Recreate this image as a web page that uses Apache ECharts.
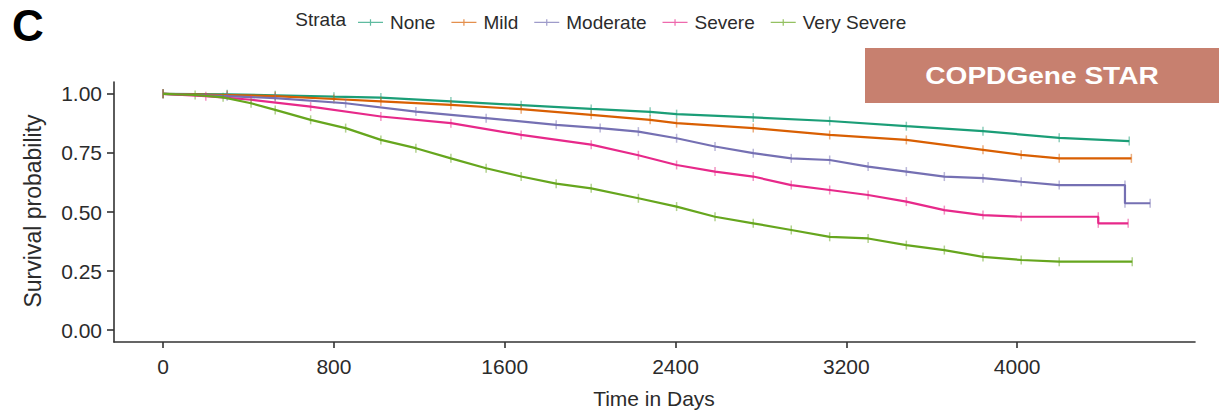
<!DOCTYPE html>
<html>
<head>
<meta charset="utf-8">
<script src="https://cdn.jsdelivr.net/npm/echarts@6/dist/echarts.min.js"></script>
<style>
html,body{margin:0;padding:0;background:#fff;}
#chart{width:1219px;height:419px;}
</style>
</head>
<body>
<div id="chart"></div>
<script>
// ---- data ----
const strata = ['None', 'Mild', 'Moderate', 'Severe', 'Very Severe'];
const colors = ['#1b9e77', '#d95f02', '#7570b3', '#e7298a', '#66a61e'];

const daysNone = [0, 300, 525, 800, 1020, 1348, 1677, 2005, 2281, 2405, 2764, 3122, 3481, 3840, 4197, 4525];
const survNone = [1, 0.998, 0.994, 0.988, 0.984, 0.968, 0.952, 0.936, 0.924, 0.914, 0.9, 0.885, 0.863, 0.842, 0.814, 0.8];

const daysMild = [0, 300, 525, 800, 1020, 1348, 1677, 2005, 2281, 2405, 2764, 3122, 3481, 3840, 4019, 4197, 4535];
const survMild = [1, 0.995, 0.99, 0.978, 0.968, 0.953, 0.935, 0.911, 0.89, 0.876, 0.855, 0.826, 0.805, 0.763, 0.742, 0.727, 0.727];

const daysModerate = [0, 300, 525, 855, 1184, 1513, 1841, 2047, 2226, 2405, 2585, 2764, 2942, 3122, 3302, 3481, 3659, 3840, 4019, 4197, 4505, 4505, 4623];
const survModerate = [1, 0.99, 0.982, 0.96, 0.925, 0.897, 0.869, 0.855, 0.84, 0.812, 0.777, 0.749, 0.727, 0.72, 0.692, 0.671, 0.65, 0.643, 0.628, 0.614, 0.614, 0.537, 0.537];

const daysSevere = [0, 200, 412, 691, 1020, 1348, 1677, 2005, 2226, 2405, 2585, 2764, 2942, 3122, 3302, 3481, 3659, 3840, 4019, 4380, 4380, 4520];
const survSevere = [1, 0.99, 0.975, 0.946, 0.904, 0.876, 0.826, 0.785, 0.74, 0.699, 0.671, 0.65, 0.614, 0.593, 0.572, 0.544, 0.508, 0.487, 0.48, 0.48, 0.452, 0.452];

const daysVerySevere = [0, 150, 281, 412, 525, 691, 855, 1020, 1184, 1348, 1513, 1677, 1841, 2005, 2226, 2405, 2585, 2764, 2942, 3122, 3302, 3481, 3659, 3840, 4019, 4197, 4539];
const survVerySevere = [1, 0.995, 0.985, 0.96, 0.932, 0.89, 0.855, 0.805, 0.77, 0.727, 0.685, 0.65, 0.62, 0.60, 0.558, 0.523, 0.48, 0.452, 0.424, 0.395, 0.388, 0.36, 0.339, 0.31, 0.297, 0.29, 0.29];

const xTicks = [0, 800, 1600, 2400, 3200, 4000];
const yTicks = [0, 0.25, 0.5, 0.75, 1];

// ---- chart ----
const allDays = [daysNone, daysMild, daysModerate, daysSevere, daysVerySevere];
const allSurv = [survNone, survMild, survModerate, survSevere, survVerySevere];

const font = "'Liberation Sans', Arial, Helvetica, sans-serif";
const axisColor = '#333';
const textColor = '#2b2b2b';

const series = strata.map((name, i) => ({
  name: name,
  type: 'line',
  data: allDays[i].map((d, j) => [d, allSurv[i][j]]),
  showSymbol: true,
  showAllSymbol: true,
  symbol: 'rect',
  symbolSize: [1.5, 9],
  itemStyle: { color: colors[i], opacity: 0.5 },
  lineStyle: { color: colors[i], width: 2.2 },
  emphasis: { disabled: true },
  silent: true,
  z: 2 + i
}));

const legendIcon = 'path://M0,3.5 H25 V4.7 H0 Z M11.9,1 H13.1 V7.5 H11.9 Z';

const chart = echarts.init(document.getElementById('chart'), null, { renderer: 'svg' });
chart.setOption({
  animation: false,
  backgroundColor: '#fff',
  textStyle: { fontFamily: font },
  grid: { left: 114, right: 24, top: 82, bottom: 77, containLabel: false },
  legend: {
    data: strata,
    left: 353,
    top: 8,
    icon: legendIcon,
    itemWidth: 25,
    itemHeight: 8,
    itemGap: 16,
    itemStyle: { opacity: 0.7 },
    textStyle: { fontSize: 19, color: textColor, fontFamily: font, padding: [2, 0, 0, 2] },
    selectedMode: false
  },
  xAxis: {
    type: 'value',
    min: -230,
    max: 4833,
    axisLine: { show: true, onZero: false, lineStyle: { color: axisColor, width: 1.6 } },
    axisTick: { show: true, length: 6, customValues: xTicks, lineStyle: { color: axisColor, width: 1.6 } },
    axisLabel: { customValues: xTicks, fontSize: 21, color: textColor, margin: 14, fontFamily: font,
      formatter: v => String(v) },
    splitLine: { show: false }
  },
  yAxis: {
    type: 'value',
    min: -0.05,
    max: 1.05,
    axisLine: { show: true, onZero: false, lineStyle: { color: axisColor, width: 1.6 } },
    axisTick: { show: true, length: 7, customValues: yTicks, lineStyle: { color: axisColor, width: 1.6 } },
    axisLabel: { customValues: yTicks, fontSize: 21, color: textColor, margin: 12, fontFamily: font,
      formatter: v => v.toFixed(2) },
    splitLine: { show: false }
  },
  graphic: [
    { type: 'text', x: 12, y: 25, style: { text: 'C', font: 'bold 44px ' + font, fill: '#000', verticalAlign: 'middle' } },
    { type: 'text', x: 346, y: 19, style: { text: 'Strata', fontSize: 19, fontFamily: font, fill: textColor, align: 'right', verticalAlign: 'middle' } },
    { type: 'rect', shape: { x: 865, y: 48, width: 354, height: 55 }, style: { fill: '#c7806f' } },
    { type: 'text', x: 1042, y: 76, scaleX: 1.17, style: { text: 'COPDGene STAR', font: 'bold 24px ' + font, fill: '#fff', align: 'center', verticalAlign: 'middle' } },
    { type: 'text', x: 33, y: 211, rotation: Math.PI / 2, style: { text: 'Survival probability', fontSize: 23, fontFamily: font, fill: textColor, align: 'center', verticalAlign: 'middle' } },
    { type: 'text', x: 654, y: 398, style: { text: 'Time in Days', fontSize: 21, fontFamily: font, fill: textColor, align: 'center', verticalAlign: 'middle' } }
  ],
  series: series
});
</script>
</body>
</html>
